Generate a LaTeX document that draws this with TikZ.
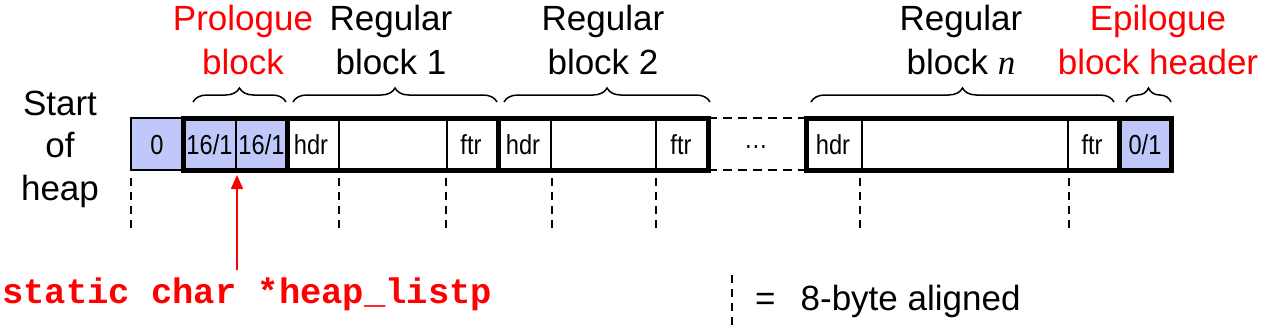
\documentclass[tikz,border=0pt]{standalone}
\usepackage{fontspec}
\setmainfont{Liberation Sans}
\setmonofont{Liberation Mono}
\newfontfamily\cellfont{Liberation Sans}[FakeStretch=0.86]
\newfontfamily\varfont{Liberation Serif}
\usetikzlibrary{decorations.pathreplacing,arrows.meta}
\definecolor{heapblue}{RGB}{192,200,250}
\definecolor{heapred}{RGB}{255,0,0}
\begin{document}
\begin{tikzpicture}[x=1pt,y=-1pt,
  lbl/.style={anchor=base,inner sep=0pt,font=\fontsize{35}{42}\selectfont},
  redlbl/.style={lbl,text=heapred},
  celltext/.style={anchor=base,inner sep=0pt,font=\cellfont\fontsize{27.5}{30}\selectfont},
  thinline/.style={line width=1.5pt},
  thickbox/.style={line width=5pt},
  gapline/.style={line width=2pt,dash pattern=on 9pt off 6pt},
  brc/.style={decorate,decoration={brace,amplitude=14pt},line width=1.5pt},
  align8/.style={line width=1.8pt,dash pattern=on 8pt off 6pt},
  ptrarrow/.style={heapred,line width=1.8pt,-{Triangle[length=14pt,width=12pt]}},
]
\useasboundingbox (0,0) rectangle (1262,330);

% blue fills
\fill[heapblue] (131,118) rectangle (183,170);
\fill[heapblue] (183,118) rectangle (287,170);
\fill[heapblue] (1119,118) rectangle (1171,170);
\fill[white] (287,118) rectangle (708,170);
\fill[white] (806,118) rectangle (1119,170);

% thin lines
\draw[thinline] (131,118) rectangle (183,170);
\foreach \x in {236,339,447,551,656,862,1068}
  \draw[thinline] (\x,118) -- (\x,170);

% gap between block 2 and block n
\draw[gapline] (708,118) -- (806,118);
\draw[gapline] (708,170) -- (806,170);

% thick outlines
\draw[thickbox] (183,118) rectangle (287,170);
\draw[thickbox] (287,118) rectangle (498,170);
\draw[thickbox] (498,118) rectangle (708,170);
\draw[thickbox] (806,118) rectangle (1171,170);
\draw[thickbox] (1119,118) -- (1119,170);

% cell texts
\node[celltext] (c0) at (157,154) {0};
\node[celltext] (p1) at (209.5,154) {16/1};
\node[celltext] (p2) at (261.5,154) {16/1};
\node[celltext] (h1) at (311,154) {hdr};
\node[celltext] (f1) at (471,154) {ftr};
\node[celltext] (h2) at (523,154) {hdr};
\node[celltext] (f2) at (681,154) {ftr};
\node[celltext] (dots) at (756,148) {\ldots};
\node[celltext] (hn) at (833,154) {hdr};
\node[celltext] (fn) at (1092,154) {ftr};
\node[celltext] (e1) at (1145,154) {0/1};

% alignment marks
\foreach \x in {131,339,446,552,656,860,1069}
  \draw[align8] (\x,178) -- (\x,230);

% braces
\draw[brc] (193,102) -- (286,102);
\draw[brc] (293,102) -- (497,102);
\draw[brc] (504,102) -- (710,102);
\draw[brc] (811,102) -- (1114,102);
\draw[brc] (1126,102) -- (1171,102);

% labels
\node[redlbl] (pro1) at (243,30) {Prologue};
\node[redlbl] (pro2) at (243,74) {block};
\node[lbl] (r1a) at (391,30) {Regular};
\node[lbl] (r1b) at (391,74) {block 1};
\node[lbl] (r2a) at (603,30) {Regular};
\node[lbl] (r2b) at (603,74) {block 2};
\node[lbl] (rna) at (961,30) {Regular};
\node[lbl] (rnb) at (961,74) {block {\varfont\itshape n}};
\node[redlbl] (epi1) at (1158,30) {Epilogue};
\node[redlbl] (epi2) at (1158,74) {block header};
\node[lbl] (s1) at (60,115) {Start};
\node[lbl] (s2) at (60,157) {of};
\node[lbl] (s3) at (60,200) {heap};

% pointer
\node[anchor=base west,inner sep=0pt,text=heapred,font=\ttfamily\bfseries\fontsize{35.5}{40}\selectfont] (ptr) at (2,303) {static char *heap\_listp};
\coordinate (ptrtail) at (237,270);
\coordinate (ptrhead) at (237,175);
\draw[ptrarrow] (ptrtail) -- (ptrhead);

% legend
\draw[align8] (732,275) -- (732,325);
\node[lbl,anchor=base west] (legend) at (755,310) {=\hspace{25pt}8-byte aligned};
\end{tikzpicture}
\end{document}
